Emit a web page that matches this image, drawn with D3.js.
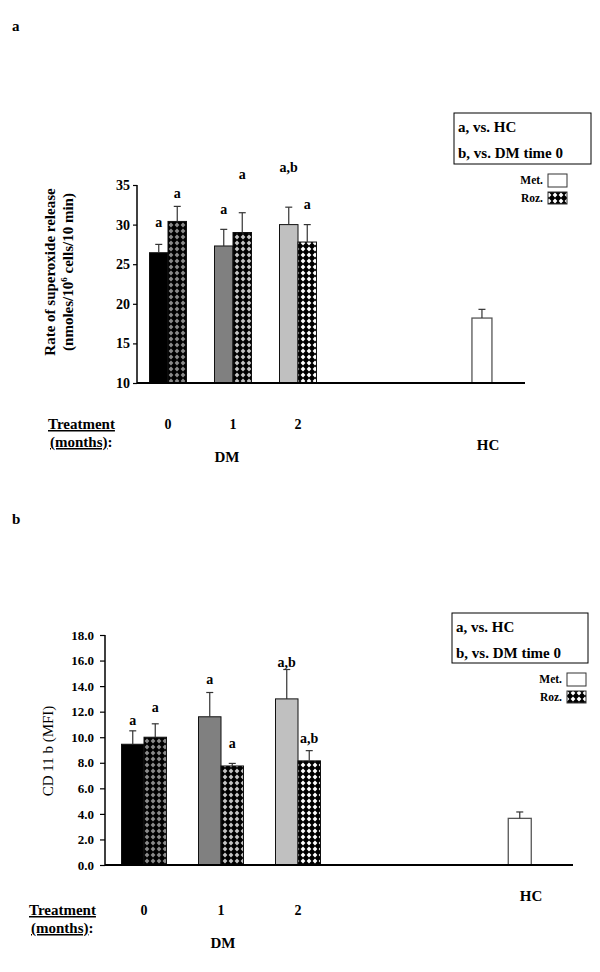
<!DOCTYPE html>
<html><head><meta charset="utf-8">
<script src="https://cdn.jsdelivr.net/npm/d3@7"></script>
<style>body{margin:0;background:#fff} svg{display:block}</style>
</head><body>
<script>
// ---------- data ----------
const groups = ["0", "1", "2"];
const hcLabel = "HC";
const dmLabel = "DM";
const metColors = ["#000000", "#808080", "#c0c0c0"];
const rozDotColors = ["#8a8a8a", "#c4c4c4", "#ffffff"];

// panel a : rate of superoxide release
const aMet = [26.45, 27.3, 30.0];
const aMetErr = [1.05, 2.1, 2.2];
const aRoz = [30.4, 29.0, 27.8];
const aRozErr = [1.9, 2.5, 2.2];
const aHC = 18.2;
const aHCErr = 1.1;
const aMetSig = ["a", "a", "a,b"];
const aRozSig = ["a", "a", "a"];
const aMetSigAt = [30.2, 31.8, 37.1];
const aRozSigAt = [33.9, 36.3, 32.5];
const aTicks = [10, 15, 20, 25, 30, 35];

// panel b : CD 11 b (MFI)
const bMet = [9.45, 11.6, 13.0];
const bMetErr = [1.05, 1.9, 2.3];
const bRoz = [10.0, 7.75, 8.15];
const bRozErr = [1.05, 0.2, 0.8];
const bHC = 3.65;
const bHCErr = 0.5;
const bMetSig = ["a", "a", "a,b"];
const bRozSig = ["a", "a", "a,b"];
const bMetSigAt = [11.3, 14.5, 15.8];
const bRozSigAt = [12.3, 9.5, 9.9];
const bTicks = [0, 2, 4, 6, 8, 10, 12, 14, 16, 18];

const legendLines = ["a, vs. HC", "b, vs. DM time 0"];
const legendItems = ["Met.", "Roz."];

// ---------- drawing ----------
const FONT = "'Liberation Serif', 'Times New Roman', serif";
const svg = d3.select("body").append("svg").attr("width", 600).attr("height", 972)
  .style("font-family", FONT);

const defs = svg.append("defs");
function makePattern(id, dot) {
  const p = defs.append("pattern").attr("id", id).attr("patternUnits", "userSpaceOnUse")
    .attr("width", 6).attr("height", 6);
  p.append("rect").attr("width", 6).attr("height", 6).attr("fill", "#000");
  p.append("path").attr("d", "M3,0.6 L5.4,3 L3,5.4 L0.6,3 Z").attr("fill", dot);
}
rozDotColors.forEach((c, i) => makePattern("roz" + i, c));
makePattern("rozLegend", "#ffffff");

function panel(cfg) {
  const g = svg.append("g");
  const y = d3.scaleLinear().domain(cfg.yDomain).range(cfg.yRange);
  const x = d3.scaleLinear().domain([0, 1]).range([cfg.x0, cfg.x0 + cfg.step]);
  const base = y(cfg.yDomain[0]);

  g.append("text").attr("x", 12).attr("y", cfg.titleY).text(cfg.title)
    .attr("font-weight", "bold").attr("font-size", 15);

  groups.forEach((gr, i) => {
    const cx = x(i);
    g.append("rect").attr("x", cx - cfg.barW).attr("y", y(cfg.met[i]))
      .attr("width", cfg.barW).attr("height", base - y(cfg.met[i]))
      .attr("fill", metColors[i]).attr("stroke", "#111").attr("stroke-width", 1);
    g.append("rect").attr("x", cx).attr("y", y(cfg.roz[i]))
      .attr("width", cfg.barW).attr("height", base - y(cfg.roz[i]))
      .attr("fill", "url(#roz" + i + ")").attr("stroke", "#111").attr("stroke-width", 1);
    errBar(g, cx - cfg.barW / 2, y(cfg.met[i]), y(cfg.met[i] + cfg.metErr[i]));
    errBar(g, cx + cfg.barW / 2, y(cfg.roz[i]), y(cfg.roz[i] + cfg.rozErr[i]));
    sig(g, cx - cfg.barW / 2, y(cfg.metSigAt[i]), cfg.metSig[i]);
    sig(g, cx + cfg.barW / 2, y(cfg.rozSigAt[i]), cfg.rozSig[i]);
    g.append("text").attr("x", cx).attr("y", cfg.treatY).attr("text-anchor", "middle")
      .attr("font-weight", "bold").attr("font-size", 14).text(gr);
  });
  const hx = x(cfg.hcIdx);
  g.append("rect").attr("x", hx - cfg.hcW / 2).attr("y", y(cfg.hc))
    .attr("width", cfg.hcW).attr("height", base - y(cfg.hc))
    .attr("fill", "#fff").attr("stroke", "#555").attr("stroke-width", 1.3);
  errBar(g, hx, y(cfg.hc), y(cfg.hc + cfg.hcErr));

  const ax = g.append("g").attr("transform", `translate(${cfg.axisX},0)`)
    .call(d3.axisLeft(y).tickValues(cfg.ticks).tickSize(cfg.tickSize)
      .tickPadding(cfg.tickPad).tickFormat(cfg.fmt));
  ax.select(".domain").attr("stroke", "#000").attr("stroke-width", 1.5)
    .attr("d", `M0,${y(cfg.yDomain[1])}V${base}`);
  ax.selectAll(".tick line").attr("stroke", "#000").attr("stroke-width", 1.2);
  ax.selectAll(".tick text").attr("font-family", FONT).attr("font-weight", "bold")
    .attr("font-size", cfg.tickFont).attr("fill", "#000");
  g.append("line").attr("x1", cfg.axisX).attr("x2", cfg.axisRight)
    .attr("y1", base).attr("y2", base).attr("stroke", "#000").attr("stroke-width", 2);

  const yl = g.append("g").attr("transform", `translate(0,${cfg.yLabelY}) rotate(-90)`);
  cfg.yLabel(yl);

  const t1 = g.append("text").attr("x", cfg.treatX).attr("y", cfg.treatY)
    .attr("font-weight", "bold").attr("font-size", 15);
  t1.append("tspan").attr("text-decoration", "underline").text("Treatment");
  const t2 = g.append("text").attr("x", cfg.treatX + 2).attr("y", cfg.monthsY)
    .attr("font-weight", "bold").attr("font-size", 15);
  t2.append("tspan").attr("text-decoration", "underline").text("(months)");
  t2.append("tspan").text(":");
  g.append("text").attr("x", cfg.dmX).attr("y", cfg.dmY).attr("text-anchor", "middle")
    .attr("font-weight", "bold").attr("font-size", 15).text(dmLabel);
  g.append("text").attr("x", cfg.hcTextX).attr("y", cfg.hcTextY).attr("text-anchor", "middle")
    .attr("font-weight", "bold").attr("font-size", 15).text(hcLabel);

  const L = cfg.legend;
  g.append("rect").attr("x", L.x).attr("y", L.y).attr("width", L.w).attr("height", L.h)
    .attr("fill", "#fff").attr("stroke", "#000").attr("stroke-width", 1);
  legendLines.forEach((s, i) => {
    g.append("text").attr("x", L.x + 4).attr("y", L.y + 18.5 + i * 26.5)
      .attr("font-weight", "bold").attr("font-size", 15).text(s);
  });
  legendItems.forEach((s, i) => {
    const yy = L.itemY + i * 18;
    g.append("text").attr("x", L.itemX - 5).attr("y", yy + 10).attr("text-anchor", "end")
      .attr("font-weight", "bold").attr("font-size", 11.5).text(s);
    g.append("rect").attr("x", L.itemX).attr("y", yy).attr("width", 19).attr("height", i ? 12 : 13)
      .attr("fill", i ? "url(#rozLegend)" : "#fff").attr("stroke", "#333").attr("stroke-width", 1);
  });
}

function errBar(g, cx, y0, y1) {
  g.append("line").attr("x1", cx).attr("x2", cx).attr("y1", y0).attr("y2", y1)
    .attr("stroke", "#333").attr("stroke-width", 1.2);
  g.append("line").attr("x1", cx - 3.5).attr("x2", cx + 3.5).attr("y1", y1).attr("y2", y1)
    .attr("stroke", "#333").attr("stroke-width", 1.2);
}
function sig(g, cx, yy, s) {
  g.append("text").attr("x", cx).attr("y", yy + 4).attr("text-anchor", "middle")
    .attr("font-weight", "bold").attr("font-size", 14).text(s);
}

panel({
  title: "a", titleY: 31,
  yDomain: [10, 35], yRange: [383, 185], ticks: aTicks, fmt: d3.format("d"),
  x0: 168, step: 65, hcIdx: 4.83, barW: 18.5, hcW: 20,
  axisX: 137, axisRight: 525, tickSize: 4, tickPad: 3, tickFont: 14,
  met: aMet, metErr: aMetErr, roz: aRoz, rozErr: aRozErr, hc: aHC, hcErr: aHCErr,
  metSig: aMetSig, rozSig: aRozSig, metSigAt: aMetSigAt, rozSigAt: aRozSigAt,
  yLabelY: 272,
  yLabel: (s) => {
    s.append("text").attr("x", 0).attr("y", 55).attr("text-anchor", "middle")
      .attr("font-weight", "bold").attr("font-size", 15).text("Rate of superoxide release");
    const t = s.append("text").attr("x", 0).attr("y", 73).attr("text-anchor", "middle")
      .attr("font-weight", "bold").attr("font-size", 15);
    t.append("tspan").text("(nmoles/10");
    t.append("tspan").attr("font-size", 9).attr("dy", -6).text("6");
    t.append("tspan").attr("dy", 6).text(" cells/10 min)");
  },
  treatX: 48, treatY: 429, monthsY: 447, dmX: 227, dmY: 462, hcTextX: 488, hcTextY: 450,
  legend: { x: 454, y: 113, w: 137, h: 51, itemX: 548, itemY: 174 }
});

panel({
  title: "b", titleY: 524,
  yDomain: [0, 18], yRange: [865, 635], ticks: bTicks, fmt: d3.format(".1f"),
  x0: 144, step: 77, hcIdx: 4.88, barW: 22.5, hcW: 23,
  axisX: 105, axisRight: 573, tickSize: 5, tickPad: 6, tickFont: 13,
  met: bMet, metErr: bMetErr, roz: bRoz, rozErr: bRozErr, hc: bHC, hcErr: bHCErr,
  metSig: bMetSig, rozSig: bRozSig, metSigAt: bMetSigAt, rozSigAt: bRozSigAt,
  yLabelY: 751,
  yLabel: (s) => {
    s.append("text").attr("x", 0).attr("y", 53).attr("text-anchor", "middle")
      .attr("font-size", 15).text("CD 11 b (MFI)");
  },
  treatX: 29, treatY: 915, monthsY: 933, dmX: 223, dmY: 948, hcTextX: 531, hcTextY: 901,
  legend: { x: 452, y: 613, w: 136, h: 50, itemX: 567, itemY: 673 }
});
</script>
</body></html>
